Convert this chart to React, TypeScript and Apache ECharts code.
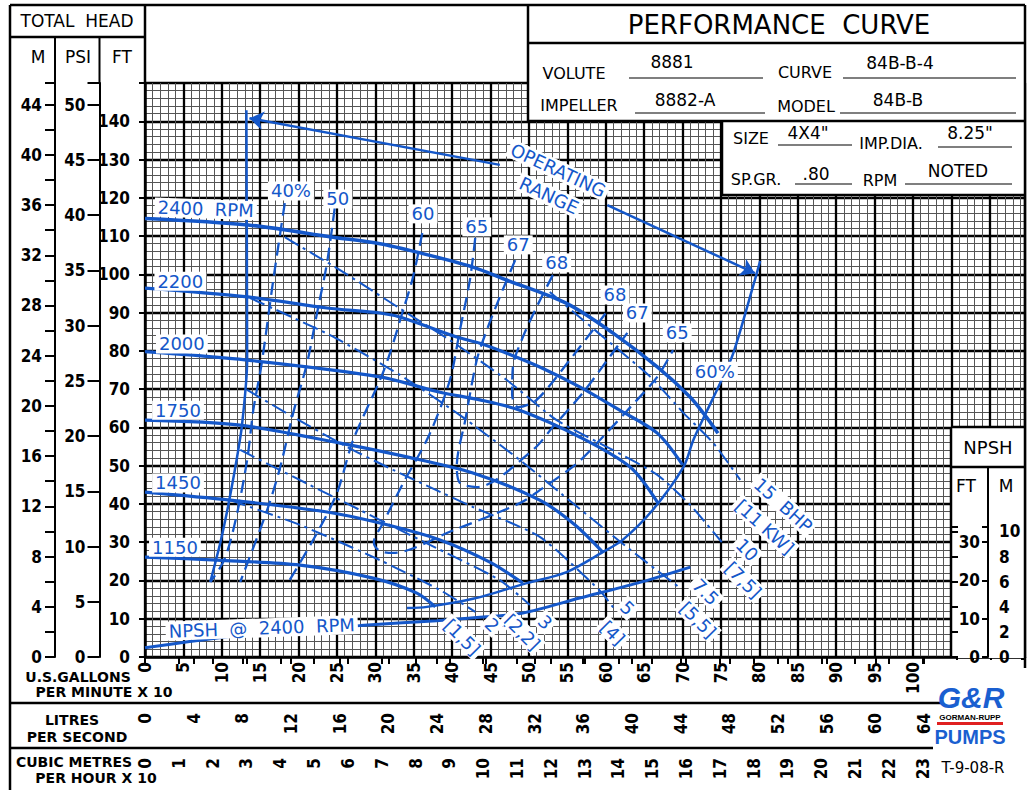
import React, { useEffect, useRef } from 'react';
import * as echarts from 'echarts';

// x unit: U.S. gallons per minute x 10 ; y unit: total head, feet
const X_MAX = 114.58;
const FT_MAX = 150;
const FT_PER_M = 3.2808;
const PSI_PER_FT = 0.8 / 2.31; // SP.GR. .80
const GPM10_PER_LPS = 1.58503;
const GPM10_PER_M3H10 = 4.40287;
const NPSH_FT_MAX = 33.97;

// head-capacity curves (q, ft)
const rpm2400 = [[0,114.6],[13.4,112.9],[24.5,109.7],[30.6,108.0],[35.4,105.8],[42.7,101.9],[47.1,98.5],[54.9,92.4],[60.9,84.7],[66.7,75.8],[71.0,67.9],[72.9,63.2],[74.6,58.5]];
const rpm2200 = [[0,96.4],[13.4,94.1],[23.7,91.2],[30.6,89.9],[33.6,88.6],[40.6,83.6],[43.6,82.0],[47.1,79.4],[51.4,75.8],[56.6,70.6],[61.8,64.5],[66.7,58.5],[70.0,50.2]];
const rpm2000 = [[0,79.8],[13.3,77.6],[30.6,73.2],[38.4,69.2],[43.6,67.2],[48.8,64.5],[56.6,57.5],[63.2,49.6],[66.8,40.2]];
const rpm1750 = [[0,61.9],[12.4,60.6],[25.4,55.9],[34.1,52.3],[42.7,48.1],[51.4,41.0],[56.0,34.5],[59.6,27.4]];
const rpm1450 = [[0,43.1],[11.1,41.0],[23.7,37.9],[30.6,35.0],[38.4,30.6],[44.9,24.8],[49.2,19.3]];
const rpm1150 = [[0,26.1],[9.4,25.3],[20.2,24.0],[29.7,20.6],[35.4,16.7],[37.8,13.1]];

// operating range boundaries
const rangeLeft = [[13.2,142.9],[13.3,77.6],[12.6,60.1],[11.7,48.9],[10.8,39.2],[9.8,29.8],[8.5,19.6]];
const rangeRight60 = [[80.1,103.5],[79.4,98.5],[76.6,79.4],[74.9,71.6],[72.9,63.2],[71.4,56.7],[70.1,49.6],[66.1,38.4],[62.2,30.6],[59.6,27.4],[54.9,22.2],[49.7,19.3],[42.7,15.2],[36.7,13.1],[34.1,12.8]];
const rangeArrows = [[[46.2,128.6],[13.6,140.8]],[[60.2,118.1],[79.4,100.3]]];

// efficiency contours (%)
const eff40 = [[18.2,118.6],[16.7,98.5],[15.2,76.8],[14.1,64.5],[13.3,51.5],[11.8,35.8],[10.3,25.3],[8.5,19.6]];
const eff50 = [[24.7,117.3],[23.7,103.0],[22.4,89.9],[21.1,76.8],[19.3,63.8],[17.6,49.6],[15.9,38.4],[12.4,19.6]];
const eff60 = [[36.1,110.8],[34.9,99.3],[33.5,89.9],[31.9,79.4],[30.6,72.4],[27.1,56.7],[25.0,42.9],[22.4,32.4],[18.6,19.3]];
const eff65 = [[43.0,109.5],[42.3,98.5],[41.0,85.4],[39.7,72.4],[37.0,58.0],[33.5,45.0],[31.0,35.0],[29.8,30.0],[30.5,27.8],[32.3,27.2],[40.0,33.0],[48.8,40.2],[51.4,43.6],[56.3,50.7],[59.6,57.5],[63.2,65.3],[66.7,73.2],[68.75,80.2]];
const eff67 = [[48.2,103.7],[46.2,94.1],[44.5,85.4],[43.2,77.6],[41.7,61.9],[40.6,50.0],[41.0,45.5],[43.2,44.4],[50.5,54.1],[53.1,60.1],[57.0,69.0],[60.2,77.6],[62.8,84.7]];
const eff68 = [[53.1,99.8],[51.0,91.5],[49.2,83.6],[47.9,75.8],[47.8,68.5],[48.6,65.3],[51.0,67.2],[55.3,77.6],[58.3,85.4],[60.3,90.7]];

// brake horsepower lines
const bhp15 = [[52.7,95.4],[58.9,84.9],[65.8,73.2],[70.1,63.8],[74.0,55.9],[77.5,46.3]];
const bhp10 = [[18.2,109.7],[25.4,101.1],[34.1,89.9],[39.7,82.8],[47.1,72.4],[53.6,61.9],[60.9,54.1],[66.7,47.6],[71.0,39.7],[75.1,30.0]];
const bhp7_5 = [[13.7,93.8],[24.1,84.1],[33.2,73.7],[41.0,63.2],[48.8,51.5],[56.0,39.7],[63.2,28.0],[69.7,18.0]];
const bhp5 = [[13.3,69.8],[19.3,62.7],[26.3,54.9],[32.3,48.9],[37.1,44.4],[42.7,39.2],[51.4,31.4],[59.2,17.4],[61.2,12.3]];
const bhp3 = [[12.4,54.1],[20.2,46.2],[28.0,38.4],[37.1,29.3],[46.2,20.1],[50.1,13.6]];
const bhp2 = [[11.1,41.0],[20.2,34.5],[30.6,25.3],[38.4,17.5],[43.0,11.8]];

// NPSH required @ 2400 RPM (ft)
const npsh2400 = [[0,2.4],[12.4,5.7],[28,8.2],[38,9.5],[44.5,10.5],[49.2,11.5],[56.6,15.4],[64.1,19.3],[71,23.5]];

// annotation texts: [text, q, ft, rotation deg]
const curveNotes: [string, number, number, number][] = [
  ['2400  RPM', 7.9, 117.1, -2],
  ['2200', 4.6, 98.2, 0],
  ['2000', 4.8, 81.8, 0],
  ['1750', 4.3, 64.5, 0],
  ['1450', 4.3, 45.5, 0],
  ['1150', 3.9, 28.7, 0],
  ['NPSH  @  2400  RPM', 15.2, 7.6, 2],
  ['40%', 19.0, 121.8, 0],
  ['50', 25.1, 119.7, 0],
  ['60', 36.2, 115.8, 0],
  ['65', 43.2, 112.4, 0],
  ['67', 48.6, 107.7, 0],
  ['68', 53.6, 103.0, 0],
  ['68', 61.2, 94.6, 0],
  ['67', 64.1, 89.9, 0],
  ['65', 69.3, 84.7, 0],
  ['60%', 74.2, 74.7, 0],
  ['OPERATING', 53.8, 127.2, -25],
  ['RANGE', 52.6, 120.6, -25],
  ['15  BHP', 83.1, 39.7, -42],
  ['[11 KW]', 80.7, 34.0, -42],
  ['10', 78.4, 28.0, -45],
  ['[7,5]', 77.9, 20.1, -45],
  ['7.5', 73.0, 17.0, -45],
  ['[5,5]', 72.0, 9.7, -45],
  ['5', 62.8, 12.8, -45],
  ['[4]', 60.9, 6.3, -45],
  ['3', 52.1, 9.1, -45],
  ['[2,2]', 49.1, 6.5, -45],
  ['2', 45.2, 8.4, -45],
  ['[1,5]', 41.3, 5.2, -45],
];

const BLUE = '#1457c9';
const NUM_FONT = '"Liberation Sans Narrow", "DejaVu Sans Condensed", "Liberation Sans", sans-serif';
const TXT_FONT = '"DejaVu Sans", sans-serif';

function lineSeries(name: string, data: number[][], width: number, type: any, smooth = 0.3) {
  return {
    name, type: 'line', data, xAxisIndex: 0, yAxisIndex: 0,
    showSymbol: false, symbol: 'none', smooth, silent: true, z: 3,
    lineStyle: { color: BLUE, width, type, cap: 'butt' },
  };
}

export default function App() {
  const ref = useRef<HTMLDivElement>(null);
  useEffect(() => {
    document.body.style.margin = '0';
    const chart = echarts.init(ref.current!, null, { renderer: 'svg' });
    const numLabel = { color: '#000', fontFamily: NUM_FONT, fontWeight: 'bold', fontSize: 17 };
    const EFF = [13, 7];
    const BHP = [16, 5, 3, 5];
    const option: any = {
      animation: false,
      backgroundColor: '#fff',
      grid: [
        { left: 145, top: 83, right: 4, bottom: 133, containLabel: false },
        { left: 951, top: 527, width: 37, bottom: 133, containLabel: false },
      ],
      xAxis: [
        {
          type: 'value', gridIndex: 0, min: 0, max: X_MAX, interval: 5, position: 'bottom',
          axisLine: { show: true, onZero: false, lineStyle: { color: '#000', width: 2.5 } },
          axisTick: { show: false },
          axisLabel: { ...numLabel, rotate: 90, margin: 5, formatter: (v: number) => (v <= 100 ? String(v) : '') },
          splitLine: { show: true, lineStyle: { color: '#000', width: 2.3 } },
          minorTick: { show: false, splitNumber: 5 },
          minorSplitLine: { show: true, lineStyle: { color: '#555', width: 1 } },
        },
        {
          type: 'value', gridIndex: 0, min: 0, max: X_MAX / GPM10_PER_LPS, interval: 4, position: 'bottom', offset: 46,
          axisLine: { show: false },
          axisTick: { show: true, length: 7, lineStyle: { color: '#000', width: 2 } },
          axisLabel: { ...numLabel, rotate: 90, margin: 10, formatter: (v: number) => (v <= 64 && v % 4 === 0 ? String(v) : '') },
          splitLine: { show: false },
        },
        {
          type: 'value', gridIndex: 0, min: 0, max: X_MAX / GPM10_PER_M3H10, interval: 1, position: 'bottom', offset: 91,
          axisLine: { show: false },
          axisTick: { show: true, length: 7, lineStyle: { color: '#000', width: 2 } },
          axisLabel: { ...numLabel, rotate: 90, margin: 10, formatter: (v: number) => (v <= 23 && Number.isInteger(v) ? String(v) : '') },
          splitLine: { show: false },
        },
        { type: 'value', gridIndex: 1, min: 0, max: 1, show: false },
      ],
      yAxis: [
        {
          type: 'value', gridIndex: 0, min: 0, max: FT_MAX, interval: 10, position: 'left',
          axisLine: { show: true, onZero: false, lineStyle: { color: '#000', width: 2.5 } },
          axisTick: { show: true, length: 6, lineStyle: { color: '#000', width: 2 } },
          axisLabel: { ...numLabel, margin: 15, formatter: (v: number) => (v <= 140 ? String(v) : '') },
          splitLine: { show: true, lineStyle: { color: '#000', width: 2.3 } },
          minorTick: { show: false, splitNumber: 5 },
          minorSplitLine: { show: true, lineStyle: { color: '#555', width: 1 } },
        },
        {
          type: 'value', gridIndex: 0, min: 0, max: FT_MAX * PSI_PER_FT, interval: 5, position: 'left', offset: 45.5,
          axisLine: { show: true, onZero: false, lineStyle: { color: '#000', width: 2 } },
          axisTick: { show: true, length: 12, lineStyle: { color: '#000', width: 2 } },
          axisLabel: { ...numLabel, margin: 14, formatter: (v: number) => (v <= 50 ? String(v) : '') },
          splitLine: { show: false },
        },
        {
          type: 'value', gridIndex: 0, min: 0, max: FT_MAX / FT_PER_M, interval: 2, position: 'left', offset: 90,
          axisLine: { show: true, onZero: false, lineStyle: { color: '#000', width: 2 } },
          axisTick: { show: true, length: 10, lineStyle: { color: '#000', width: 2 } },
          axisLabel: { ...numLabel, margin: 13, formatter: (v: number) => (v <= 44 && v % 4 === 0 ? String(v) : '') },
          splitLine: { show: false },
        },
        {
          type: 'value', gridIndex: 1, min: 0, max: NPSH_FT_MAX, interval: 10, position: 'right', z: 60,
          axisLine: { show: true, onZero: false, lineStyle: { color: '#000', width: 2 } },
          axisTick: { show: true, inside: true, length: 6, lineStyle: { color: '#000', width: 2 } },
          axisLabel: { ...numLabel, inside: true, margin: 8, formatter: (v: number) => (v <= 30 ? String(v) : '') },
          splitLine: { show: false },
        },
        {
          type: 'value', gridIndex: 1, min: 0, max: NPSH_FT_MAX / FT_PER_M, interval: 2, position: 'right', z: 60,
          axisLine: { show: false },
          axisTick: { show: true, length: 7, lineStyle: { color: '#000', width: 2 } },
          axisLabel: { ...numLabel, margin: 11, formatter: (v: number) => (v <= 10 ? String(v) : '') },
          splitLine: { show: false },
        },
      ],
      series: [
        lineSeries('2400', rpm2400, 3.5, 'solid'),
        lineSeries('2200', rpm2200, 3.2, 'solid'),
        lineSeries('2000', rpm2000, 3.2, 'solid'),
        lineSeries('1750', rpm1750, 3.2, 'solid'),
        lineSeries('1450', rpm1450, 3.2, 'solid'),
        lineSeries('1150', rpm1150, 3.2, 'solid'),
        lineSeries('left', rangeLeft, 2.5, 'solid', 0.2),
        lineSeries('60right', rangeRight60, 2.5, 'solid', 0.3),
        lineSeries('e40', eff40, 2.3, EFF),
        lineSeries('e50', eff50, 2.3, EFF),
        lineSeries('e60', eff60, 2.3, EFF),
        lineSeries('e65', eff65, 2.3, EFF),
        lineSeries('e67', eff67, 2.3, EFF),
        lineSeries('e68', eff68, 2.3, EFF),
        lineSeries('b15', bhp15, 2, BHP, 0.2),
        lineSeries('b10', bhp10, 2, BHP, 0.2),
        lineSeries('b7.5', bhp7_5, 2, BHP, 0.2),
        lineSeries('b5', bhp5, 2, BHP, 0.2),
        lineSeries('b3', bhp3, 2, BHP, 0.2),
        lineSeries('b2', bhp2, 2, BHP, 0.2),
        lineSeries('npsh', npsh2400, 3, 'solid', 0.3),
        {
          type: 'lines', coordinateSystem: 'cartesian2d', xAxisIndex: 0, yAxisIndex: 0, silent: true, z: 3,
          symbol: ['none', 'arrow'], symbolSize: [0, 14],
          lineStyle: { color: BLUE, width: 2.5, opacity: 1 },
          data: rangeArrows.map((c) => ({ coords: c })),
        },
      ],
    };
    chart.setOption(option);

    const px = (q: number, h: number) => chart.convertToPixel({ seriesIndex: 0 }, [q, h]) as number[];
    const L = (x1: number, y1: number, x2: number, y2: number, w = 2) => ({
      type: 'line', z: 40, silent: true, shape: { x1, y1, x2, y2 }, style: { stroke: '#000', lineWidth: w },
    });
    const T = (text: string, x: number, y: number, size: number, extra: any = {}) => ({
      type: 'text', z: 41, silent: true, x, y,
      style: { text, x: 0, y: 0, fill: '#000', font: `${size}px ${TXT_FONT}`, align: 'center', verticalAlign: 'middle', ...extra },
    });
    const R = (x: number, y: number, w: number, h: number, z = 35) => ({
      type: 'rect', z, silent: true, shape: { x, y, width: w, height: h },
      style: { fill: '#fff' },
    });
    const B = (s: string, x: number, y: number) => T(s, x, y, 14, { font: `bold 14px ${TXT_FONT}` });

    const notes = curveNotes.map(([text, q, h, rot]) => {
      const p = px(q, h);
      return {
        type: 'text', z: 20, silent: true, x: p[0], y: p[1], rotation: (rot * Math.PI) / 180,
        style: {
          text, fill: BLUE, font: `18px ${TXT_FONT}`, align: 'center', verticalAlign: 'middle',
          backgroundColor: '#fff', padding: [1, 3, 0, 3],
        },
      };
    });

    const graphic: any[] = [
      // white covers (below NPSH axes which have z 60)
      R(946, 660, 83, 130, 35),
      R(528, 5, 497, 116, 35),
      R(722, 121, 303, 74, 35),
      R(951, 427, 74, 231, 35),
      // frame
      L(10, 5, 1025, 5, 2.5),
      L(10, 5, 10, 790, 2.5),
      L(1025, 5, 1025, 668, 2.5),
      L(10, 37, 145, 37, 2.5),
      L(145, 5, 145, 83, 2.5),
      L(55, 37, 55, 83, 2),
      L(99.5, 37, 99.5, 83, 2),
      L(10, 703, 943, 703, 2.5),
      L(10, 748, 933, 748, 2.5),
      // title boxes
      L(528, 5, 528, 121, 2.5),
      L(528, 43, 1025, 43, 2.5),
      L(528, 121, 1025, 121, 2.5),
      L(722, 121, 722, 195, 2.5),
      L(722, 195, 1025, 195, 2.5),
      // NPSH box
      L(951, 427, 951, 658, 2.5),
      L(951, 427, 1025, 427, 2.5),
      L(951, 467, 1025, 467, 2.5),
      L(988, 467, 988, 657, 2),
      // header texts
      T('TOTAL  HEAD', 77, 21, 17),
      T('M', 38, 57, 17),
      T('PSI', 78, 57, 17),
      T('FT', 122, 57, 17),
      T('NPSH', 988, 447, 18),
      T('FT', 966, 486, 17),
      T('M', 1006, 486, 17),
      T('PERFORMANCE  CURVE', 779, 25, 26),
      T('VOLUTE', 574, 73, 16), T('8881', 672, 62, 17), L(629, 78, 763, 78, 1.2),
      T('CURVE', 805, 72, 16), T('84B-B-4', 900, 63, 17), L(843, 78, 1016, 78, 1.2),
      T('IMPELLER', 579, 105, 16), T('8882-A', 685, 100, 17), L(635, 113, 765, 113, 1.2),
      T('MODEL', 806, 106, 16), T('84B-B', 898, 100, 17), L(840, 113, 1016, 113, 1.2),
      T('SIZE', 751, 138, 16), T('4X4"', 808, 133, 17), L(778, 145, 852, 145, 1.2),
      T('IMP.DIA.', 891, 143, 16), T('8.25"', 970, 133, 17), L(938, 147, 1012, 147, 1.2),
      T('SP.GR.', 756, 179, 16), T('.80', 816, 174, 17), L(795, 184, 852, 184, 1.2),
      T('RPM', 880, 180, 16), T('NOTED', 958, 171, 17), L(905, 184, 1012, 184, 1.2),
      // axis titles
      B('U.S.GALLONS', 78, 677),
      B('PER MINUTE X 10', 104, 692),
      B('LITRES', 72, 720),
      B('PER SECOND', 77, 737),
      B('CUBIC METRES', 74, 762),
      B('PER HOUR X 10', 96, 778),
      // logo
      T('G&R', 971, 697, 30, { fill: '#1a5fd0', font: `italic bold 30px "Liberation Sans", sans-serif` }),
      T('GORMAN-RUPP', 970, 717, 8, { font: `bold 8px "Liberation Sans", sans-serif` }),
      { type: 'rect', z: 41, silent: true, shape: { x: 937, y: 722, width: 66, height: 3 }, style: { fill: '#e02020' } },
      T('PUMPS', 970, 737, 20, { fill: '#1a5fd0', font: `bold 20px "Liberation Sans", sans-serif` }),
      T('T-9-08-R', 973, 768, 15),
      ...notes,
    ];
    chart.setOption({ graphic });
    return () => chart.dispose();
  }, []);
  return <div ref={ref} style={{ width: 1029, height: 790 }} />;
}
